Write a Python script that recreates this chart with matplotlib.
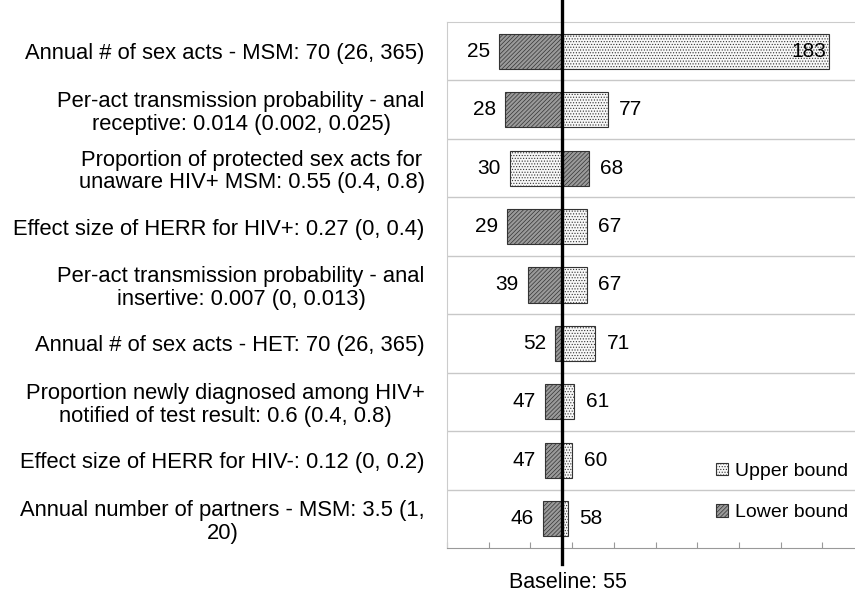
import matplotlib.pyplot as plt
from matplotlib.patches import Patch

plt.rcParams['font.family'] = ['Liberation Sans', 'DejaVu Sans']
plt.rcParams['hatch.linewidth'] = 0.5

baseline = 55

labels = [
    'Annual # of sex acts - MSM: 70 (26, 365)',
    'Per-act transmission probability - anal\nreceptive: 0.014 (0.002, 0.025)',
    'Proportion of protected sex acts for\nunaware HIV+ MSM: 0.55 (0.4, 0.8)',
    'Effect size of HERR for HIV+: 0.27 (0, 0.4)',
    'Per-act transmission probability - anal\ninsertive: 0.007 (0, 0.013)',
    'Annual # of sex acts - HET: 70 (26, 365)',
    'Proportion newly diagnosed among HIV+\nnotified of test result: 0.6 (0.4, 0.8)',
    'Effect size of HERR for HIV-: 0.12 (0, 0.2)',
    'Annual number of partners - MSM: 3.5 (1,\n20)',
]
lower = [25, 28, 68, 29, 39, 52, 47, 47, 46]
upper = [183, 77, 30, 67, 67, 71, 61, 60, 58]

lower_style = dict(facecolor='#9a9a9a', hatch='////////', edgecolor='#333333', linewidth=0.8)
upper_style = dict(facecolor='#f7f7f7', hatch='......', edgecolor='#333333', linewidth=0.8)

fig = plt.figure(figsize=(8.55, 5.92), dpi=100)
# axes runs past the right edge of the figure, like the cropped original
ax = fig.add_axes([447 / 855, 44 / 592, 417 / 855, 526 / 592])

n = len(labels)
ys = list(range(n))
for y, lo, up in zip(ys, lower, upper):
    ax.barh(y, lo - baseline, left=baseline, height=0.6, **lower_style)
    ax.barh(y, up - baseline, left=baseline, height=0.6, **upper_style)
    for v in (lo, up):
        if v > 150:
            ax.text(v - 1, y, str(v), ha='right', va='center', fontsize=15)
        elif v < baseline:
            ax.text(v - 4.5, y, str(v), ha='right', va='center', fontsize=15)
        else:
            ax.text(v + 5.5, y, str(v), ha='left', va='center', fontsize=15)

ax.set_xlim(0, 200)
ax.set_ylim(n - 0.5, -0.5)

for b in range(1, n):
    ax.axhline(b - 0.5, color='#c8c8c8', linewidth=1, zorder=0)

ax.axvline(baseline, ymin=-0.03, ymax=1.05, color='black', linewidth=2.4, clip_on=False, zorder=5)

ax.set_yticks(ys)
ax.set_yticklabels(labels, fontsize=15.8)
for t in ax.get_yticklabels():
    t.set_multialignment('center')
    t.set_linespacing(1.1)
ax.tick_params(axis='y', length=0, pad=16)
ax.set_xticks(range(0, 201, 20))
ax.set_xticklabels([])
ax.tick_params(axis='x', direction='in', length=4, color='#999999')

for side in ['top', 'left', 'right']:
    ax.spines[side].set_color('#cccccc')
ax.spines['bottom'].set_color('#999999')

ax.text(baseline + 3, -0.045, 'Baseline: 55', transform=ax.get_xaxis_transform(),
        ha='center', va='top', fontsize=15.5)

handles = [Patch(label='Upper bound', **upper_style), Patch(label='Lower bound', **lower_style)]
fig.legend(handles=handles, loc='lower right', bbox_to_anchor=(1.012, 0.09), frameon=False,
           fontsize=14, handlelength=0.6, handleheight=0.6, handletextpad=0.35, labelspacing=1.25)

fig.savefig('out.png', dpi=100)
